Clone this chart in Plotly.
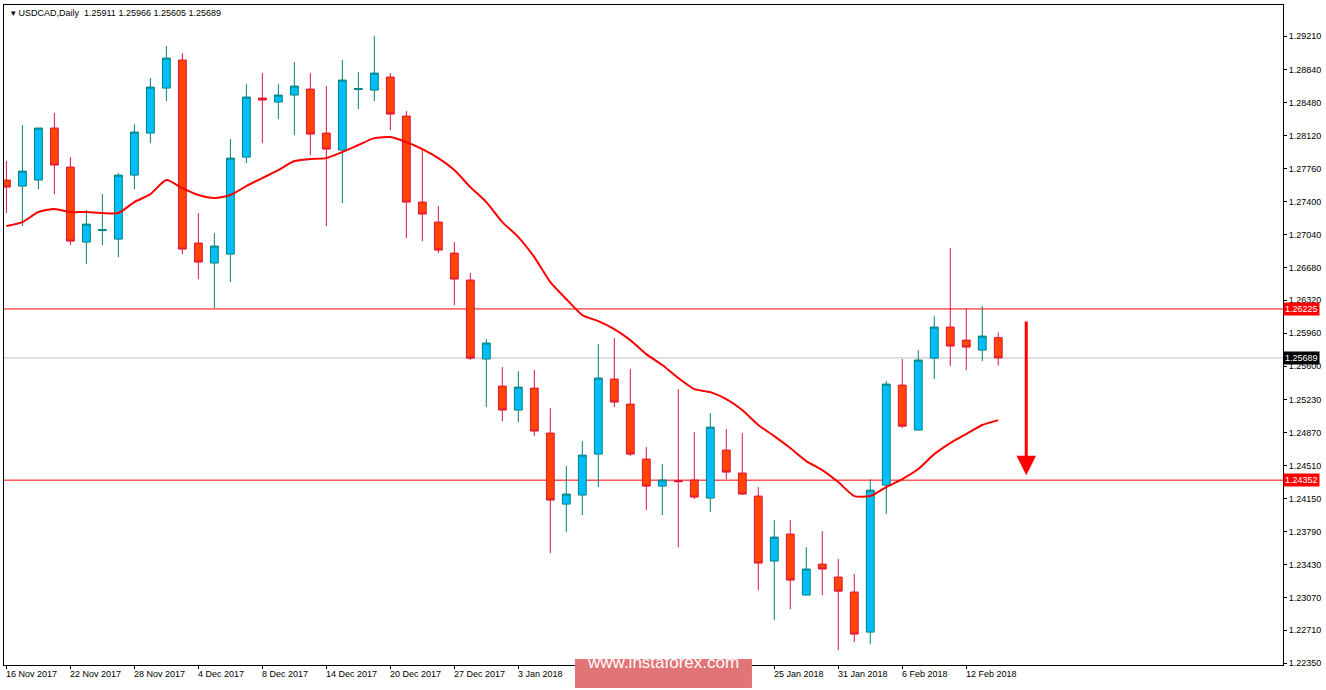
import plotly.graph_objects as go

opens = [1.27635,1.27569,1.27635,1.28204,1.27777,1.26956,1.27082,1.26989,1.27689,1.28149,1.28641,1.28948,1.26946,1.26727,1.26825,1.27886,1.28532,1.28488,1.28565,1.28630,1.28149,1.27963,1.28625,1.28619,1.28762,1.28335,1.27394,1.27175,1.26836,1.26541,1.25677,1.25381,1.25119,1.25359,1.24867,1.24090,1.24189,1.24637,1.25458,1.25184,1.24583,1.24287,1.24347,1.24353,1.24156,1.24681,1.24430,1.24178,1.23467,1.23762,1.23095,1.23434,1.23292,1.23128,1.22690,1.24298,1.25392,1.24900,1.25687,1.26027,1.25884,1.25775,1.25911]
highs = [1.27843,1.28236,1.28204,1.28368,1.27886,1.27307,1.27481,1.27711,1.28247,1.28751,1.29101,1.29024,1.27274,1.27055,1.28083,1.28685,1.28805,1.28685,1.28926,1.28805,1.28663,1.28948,1.28816,1.29210,1.28805,1.28390,1.27974,1.27350,1.26956,1.26617,1.25895,1.25589,1.25545,1.25556,1.25140,1.24506,1.24780,1.25841,1.25906,1.25567,1.24714,1.24528,1.25348,1.24878,1.25086,1.24911,1.24867,1.24276,1.23915,1.23915,1.23620,1.23795,1.23489,1.23325,1.24364,1.25436,1.25677,1.25775,1.26147,1.26891,1.26234,1.26256,1.25966]
lows = [1.27274,1.27132,1.27536,1.27481,1.26924,1.26716,1.26924,1.26792,1.27536,1.28040,1.28499,1.26825,1.26552,1.26234,1.26519,1.27821,1.28040,1.28302,1.28127,1.27908,1.27132,1.27383,1.28412,1.28499,1.28182,1.27000,1.26967,1.26836,1.26267,1.25666,1.25151,1.24998,1.24987,1.24834,1.23554,1.23784,1.23970,1.24276,1.25151,1.24615,1.24025,1.23970,1.23620,1.24145,1.24003,1.24364,1.24189,1.23149,1.22821,1.22942,1.23095,1.23095,1.22493,1.22581,1.22559,1.23981,1.24922,1.24900,1.25458,1.25600,1.25556,1.25655,1.25605]
closes = [1.27558,1.27733,1.28204,1.27799,1.26967,1.27153,1.27093,1.27689,1.28160,1.28652,1.28969,1.26880,1.26738,1.26913,1.27875,1.28543,1.28510,1.28565,1.28663,1.28138,1.27974,1.28729,1.28636,1.28805,1.28357,1.27394,1.27263,1.26869,1.26552,1.25687,1.25852,1.25119,1.25370,1.24889,1.24134,1.24200,1.24626,1.25469,1.25206,1.24637,1.24287,1.24353,1.24336,1.24167,1.24932,1.24440,1.24200,1.23445,1.23729,1.23259,1.23380,1.23380,1.23138,1.22668,1.24243,1.25403,1.24943,1.25666,1.26027,1.25819,1.25808,1.25928,1.25689]
ma = [1.27132,1.27175,1.27285,1.27318,1.27285,1.27285,1.27274,1.27274,1.27394,1.27481,1.27635,1.27547,1.27471,1.27438,1.27471,1.27569,1.27657,1.27744,1.27843,1.27865,1.27875,1.27941,1.28018,1.28094,1.28105,1.28050,1.27974,1.27875,1.27744,1.27558,1.27394,1.27175,1.27011,1.26792,1.26519,1.26333,1.26158,1.26092,1.26005,1.25884,1.25731,1.25611,1.25469,1.25348,1.25315,1.25239,1.25119,1.24955,1.24834,1.24703,1.24561,1.24462,1.24331,1.24178,1.24178,1.24276,1.24364,1.24474,1.24637,1.24758,1.24856,1.24955,1.25009]
bars = list(range(len(opens)))

date_idx = [0,4,8,12,16,20,24,28,32,48,52,56,60]
date_labels = ["16 Nov 2017","22 Nov 2017","28 Nov 2017","4 Dec 2017","8 Dec 2017","14 Dec 2017","20 Dec 2017","27 Dec 2017","3 Jan 2018","25 Jan 2018","31 Jan 2018","6 Feb 2018","12 Feb 2018"]
price_ticks = [1.29210,1.28840,1.28480,1.28120,1.27760,1.27400,1.27040,1.26680,1.26320,1.25960,1.25600,1.25230,1.24870,1.24510,1.24150,1.23790,1.23430,1.23070,1.22710,1.22350]
resistance = 1.26225
support = 1.24352
last_price = 1.25689
arrow_bar = 63.75
arrow_from = 1.26103
arrow_to = 1.24407

FONT = "Liberation Sans"
fig = go.Figure()
fig.add_trace(go.Candlestick(
    x=bars, open=opens, high=highs, low=lows, close=closes,
    increasing=dict(line=dict(color="#008080", width=1), fillcolor="#00BFFF"),
    decreasing=dict(line=dict(color="#DC143C", width=1), fillcolor="#FF4500"),
    whiskerwidth=0, showlegend=False, hoverinfo="skip"))
fig.add_trace(go.Scatter(x=bars, y=ma, mode="lines", line=dict(color="#FF0000", width=2, shape="spline", smoothing=0.6),
                         showlegend=False, hoverinfo="skip"))

for lvl, col in [(resistance, "#FF0000"), (support, "#FF0000"), (last_price, "#C0C0C0")]:
    fig.add_shape(type="line", xref="paper", x0=0, x1=1, y0=lvl, y1=lvl, line=dict(color=col, width=1), layer="below")

fig.add_annotation(x=arrow_bar, y=arrow_to, ax=arrow_bar, ay=arrow_from, xref="x", yref="y", axref="x", ayref="y",
                   showarrow=True, arrowhead=2, arrowsize=1.3, arrowwidth=3, arrowcolor="#FF0000", text="")

for lvl, bg in [(resistance, "#FF0000"), (last_price, "#000000"), (support, "#FF0000")]:
    fig.add_annotation(x=1, xref="paper", y=lvl, yref="y", xanchor="left", yanchor="middle", text=f"{lvl:.5f}",
                       showarrow=False, bgcolor=bg, font=dict(color="white", size=9, family=FONT), borderpad=1, xshift=0)

for i, lab in zip(date_idx, date_labels):
    fig.add_annotation(x=i - 0.15, xref="x", y=0, yref="paper", yanchor="top", xanchor="left", text=lab, showarrow=False,
                       font=dict(size=9, family=FONT, color="black"), yshift=-2)

fig.add_annotation(x=0.004, y=1.0, xref="paper", yref="paper", xanchor="left", yanchor="top",
                   text="▾ USDCAD,Daily  1.25911 1.25966 1.25605 1.25689", showarrow=False,
                   font=dict(size=9, family=FONT, color="black"), yshift=-1)

fig.add_shape(type="rect", xref="paper", yref="paper", x0=0.4464, x1=0.5848, y0=-0.0348, y1=0.009,
              fillcolor="#E07476", line=dict(width=0), layer="above")
fig.add_annotation(x=0.5156, y=-0.013, xref="paper", yref="paper", text="www.instaforex.com", showarrow=False,
                   font=dict(size=17, family=FONT, color="white"))

fig.update_layout(
    width=1326, height=690, margin=dict(l=4, r=43, t=5, b=25, autoexpand=False),
    paper_bgcolor="white", plot_bgcolor="white",
    xaxis=dict(range=[-0.15, 79.8], rangeslider=dict(visible=False), showgrid=False, zeroline=False, automargin=False,
               tickvals=date_idx, showticklabels=False, ticks="outside", ticklen=3, tickcolor="black",
               showline=True, linecolor="black", mirror=True),
    yaxis=dict(range=[1.2233, 1.2955], side="right", tickvals=price_ticks, ticktext=[f"{v:.5f}" for v in price_ticks],
               showgrid=False, zeroline=False, automargin=False, ticks="outside", ticklen=3, tickcolor="black",
               tickfont=dict(size=9, family=FONT, color="black"), showline=True, linecolor="black", mirror=True),
)
fig.write_html("out.html", config={"displayModeBar": False, "staticPlot": True})
with open("out.html", encoding="utf-8") as f:
    html = f.read()
html = html.replace("<head>", "<head><style>html,body{margin:0;padding:0;overflow:hidden;}</style>", 1)
with open("out.html", "w", encoding="utf-8") as f:
    f.write(html)
